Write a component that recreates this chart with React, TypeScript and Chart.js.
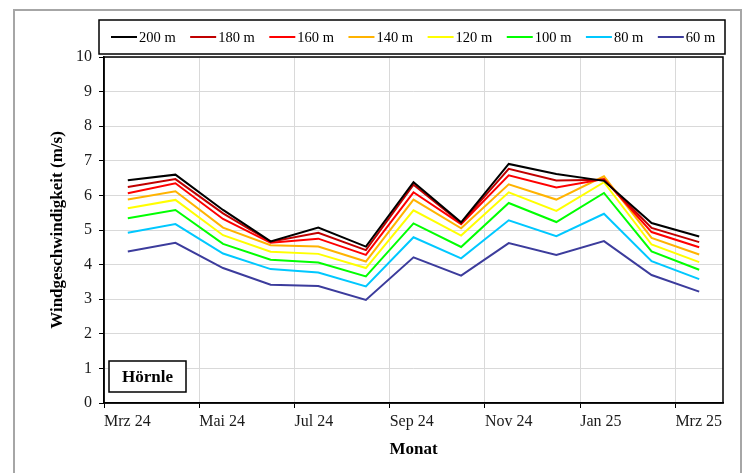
import React, { useEffect, useRef } from 'react';
import { Chart, registerables } from 'chart.js';

Chart.register(...registerables);

// ---- data ----
const months = ['Mrz 24', 'Apr 24', 'Mai 24', 'Jun 24', 'Jul 24', 'Aug 24', 'Sep 24', 'Okt 24', 'Nov 24', 'Dez 24', 'Jan 25', 'Feb 25', 'Mrz 25'];
const seriesLabels = ['200 m', '180 m', '160 m', '140 m', '120 m', '100 m', '80 m', '60 m'];
const h200 = [6.44, 6.60, 5.58, 4.67, 5.07, 4.52, 6.38, 5.22, 6.91, 6.62, 6.42, 5.20, 4.81];
const h180 = [6.24, 6.47, 5.48, 4.66, 4.92, 4.42, 6.31, 5.20, 6.77, 6.43, 6.45, 5.06, 4.65];
const h160 = [6.06, 6.35, 5.32, 4.63, 4.75, 4.28, 6.09, 5.17, 6.58, 6.23, 6.47, 4.94, 4.50];
const h140 = [5.88, 6.12, 5.07, 4.56, 4.52, 4.09, 5.88, 5.05, 6.32, 5.88, 6.55, 4.77, 4.29];
const h120 = [5.63, 5.87, 4.85, 4.37, 4.31, 3.90, 5.57, 4.84, 6.09, 5.55, 6.38, 4.58, 4.07];
const h100 = [5.34, 5.58, 4.60, 4.14, 4.06, 3.66, 5.19, 4.51, 5.78, 5.23, 6.07, 4.38, 3.85];
const h80 = [4.92, 5.17, 4.32, 3.87, 3.77, 3.37, 4.79, 4.18, 5.28, 4.82, 5.47, 4.10, 3.58];
const h60 = [4.38, 4.63, 3.90, 3.42, 3.38, 2.98, 4.21, 3.68, 4.62, 4.28, 4.68, 3.70, 3.22];
const seriesColors = ['#000000', '#C00000', '#FF0000', '#FFB300', '#FFFF00', '#00FF00', '#00C8FF', '#3C3C9C'];
const yTicks = [0, 1, 2, 3, 4, 5, 6, 7, 8, 9, 10];
const stationLabel = 'Hörnle';
const yTitle = 'Windgeschwindigkeit (m/s)';
const xTitle = 'Monat';

const FONT = "'Liberation Serif', 'Times New Roman', serif";

export default function App() {
  const ref = useRef<HTMLCanvasElement>(null);

  useEffect(() => {
    const canvas = ref.current;
    if (!canvas) return;
    const series = [h200, h180, h160, h140, h120, h100, h80, h60];

    const decor = {
      id: 'decor',
      beforeDraw(chart: any) {
        const c = chart.ctx;
        c.save();
        c.fillStyle = '#ffffff';
        c.fillRect(0, 0, chart.width, chart.height);
        c.strokeStyle = '#A6A6A6';
        c.lineWidth = 2;
        c.strokeRect(14, 10, 727, 480);
        c.restore();
      },
      afterDraw(chart: any) {
        const c = chart.ctx;
        const { left, right, top, bottom } = chart.chartArea;
        c.save();
        // plot frame
        c.strokeStyle = '#000';
        c.lineWidth = 1.5;
        c.strokeRect(left, top, right - left, bottom - top);
        // legend box
        const bx = left - 5;
        const by = 20;
        const bw = right + 2 - bx;
        const bh = top - 3 - by;
        c.fillStyle = '#fff';
        c.fillRect(bx, by, bw, bh);
        c.strokeStyle = '#000';
        c.lineWidth = 1.5;
        c.strokeRect(bx, by, bw, bh);
        c.font = `14.5px ${FONT}`;
        c.textBaseline = 'middle';
        c.textAlign = 'left';
        let x = bx + 12;
        const y = by + bh / 2;
        chart.data.datasets.forEach((ds: any) => {
          c.strokeStyle = ds.borderColor;
          c.lineWidth = 2;
          c.beginPath();
          c.moveTo(x, y);
          c.lineTo(x + 26, y);
          c.stroke();
          x += 28;
          c.fillStyle = '#000';
          c.fillText(ds.label, x, y + 1);
          x += c.measureText(ds.label).width + 14.5;
        });
        // station box
        const sx = left + 5;
        const sy = bottom - 42;
        const sw = 77;
        const sh = 31;
        c.fillStyle = '#fff';
        c.fillRect(sx, sy, sw, sh);
        c.strokeStyle = '#000';
        c.lineWidth = 1.5;
        c.strokeRect(sx, sy, sw, sh);
        c.font = `bold 17px ${FONT}`;
        c.textAlign = 'center';
        c.fillStyle = '#000';
        c.fillText(stationLabel, sx + sw / 2, sy + sh / 2 + 1);
        c.restore();
      },
    };

    const chart = new Chart(canvas, {
      type: 'line',
      data: {
        datasets: series.map((vals, si) => ({
          label: seriesLabels[si],
          data: vals.map((v, i) => ({ x: i + 0.5, y: v })),
          borderColor: seriesColors[si],
          backgroundColor: seriesColors[si],
          borderWidth: 2,
          pointRadius: 0,
          pointHoverRadius: 0,
          tension: 0,
          fill: false,
        })),
      },
      options: {
        responsive: false,
        animation: false,
        devicePixelRatio: 1,
        layout: { padding: { top: 57, left: 30, right: 26, bottom: 0 } },
        plugins: {
          legend: { display: false },
          tooltip: { enabled: false },
        },
        scales: {
          x: {
            type: 'linear',
            min: 0,
            max: months.length,
            afterFit: (s: any) => { s.height = 70; },
            ticks: {
              stepSize: 2,
              includeBounds: false,
              align: 'start',
              maxRotation: 0,
              autoSkip: false,
              padding: 4,
              color: '#1a1a1a',
              font: { family: FONT, size: 16 },
              callback: (v: any) => months[Number(v)] ?? '',
            },
            grid: { color: '#D9D9D9', lineWidth: 1, tickColor: '#000', tickLength: 5, drawTicks: true },
            border: { color: '#000', width: 1.5 },
            title: {
              display: true,
              text: xTitle,
              color: '#000',
              font: { family: FONT, size: 17, weight: 'bold' },
              padding: { top: 0, bottom: 13 },
            },
          },
          y: {
            min: 0,
            max: 10,
            afterFit: (s: any) => { s.width = 74; },
            afterBuildTicks: (s: any) => { s.ticks = yTicks.map((v) => ({ value: v })); },
            ticks: {
              stepSize: 1,
              padding: 7,
              color: '#1a1a1a',
              font: { family: FONT, size: 16 },
            },
            grid: { color: '#D9D9D9', lineWidth: 1, tickColor: '#000', tickLength: 5, drawTicks: true },
            border: { color: '#000', width: 1.5 },
            title: {
              display: true,
              text: yTitle,
              color: '#000',
              font: { family: FONT, size: 17, weight: 'bold' },
              padding: { top: 17, bottom: 0 },
            },
          },
        },
      },
      plugins: [decor],
    } as any);

    return () => chart.destroy();
  }, []);

  return (
    <div style={{ position: 'fixed', left: 0, top: 0, width: 749, height: 473, background: '#fff' }}>
      <canvas ref={ref} width={749} height={473} style={{ display: 'block', width: 749, height: 473 }} />
    </div>
  );
}
